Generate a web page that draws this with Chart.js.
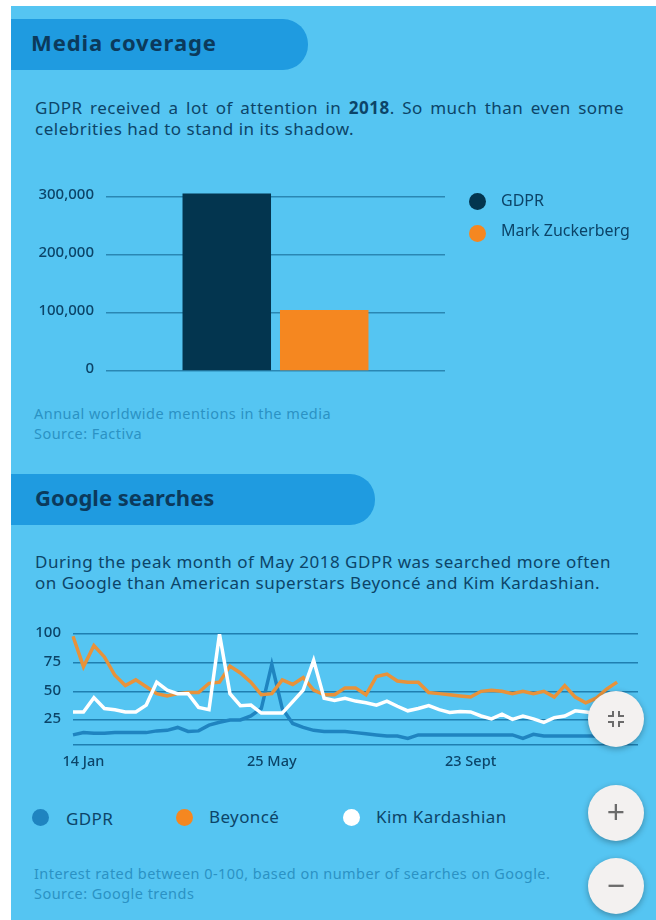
<!DOCTYPE html>
<html>
<head>
<meta charset="utf-8">
<title>Media coverage</title>
<script src="https://cdn.jsdelivr.net/npm/chart.js@4/dist/chart.umd.min.js"></script>
<style>
  html, body { margin: 0; padding: 0; background: #fff; }
  body { width: 656px; height: 920px; overflow: hidden; position: relative; font-family: "Noto Sans", sans-serif; color: #0c4468; }
  #panel { position: absolute; left: 11px; top: 6px; right: 0; bottom: 0; background: #55c5f2; }
  canvas { position: absolute; left: 0; }
  .pill { position: absolute; left: 11px; height: 51px; background: #1f9be0; border-radius: 0 25px 25px 0; }
  .pill span { position: absolute; top: 8px; font-size: 22px; line-height: 30px; font-weight: 700; color: #0b3a5c; white-space: nowrap; }
  .txt { position: absolute; left: 35px; font-size: 17px; line-height: 21px; letter-spacing: 0.5px; white-space: nowrap; }
  .note { position: absolute; left: 34px; font-size: 14.5px; line-height: 20px; letter-spacing: 0.45px; color: #2b92c4; white-space: nowrap; }
  .key { position: absolute; font-size: 16px; line-height: 20px; white-space: nowrap; }
  #searchKeys .key { font-size: 17px; letter-spacing: 0.4px; }
  .dot { position: absolute; width: 17px; height: 17px; border-radius: 50%; }
  .btn { position: absolute; left: 588px; width: 56px; height: 56px; border-radius: 50%; background: #f3f1f0; box-shadow: 0 2px 6px rgba(0,0,0,.3); color: #6b6b6b; font-size: 32px; line-height: 54px; text-align: center; }
  .btn svg { position: absolute; left: 18px; top: 18px; }
</style>
</head>
<body>
<div id="panel"></div>

<div class="pill" style="top:19px;width:297px"><span style="left:20px;letter-spacing:0.9px">Media coverage</span></div>
<div class="txt" style="top:97px"><span style="word-spacing:2.5px">GDPR received a lot of attention in <b>2018</b>. So much than even some</span><br>celebrities had to stand in its shadow.</div>
<canvas id="mediaChart" width="656" height="200" style="top:180px"></canvas>
<div id="mediaKeys"></div>
<div class="note" style="top:403px">Annual worldwide mentions in the media<br>Source: Factiva</div>

<div class="pill" style="top:474px;width:364px"><span style="left:24px">Google searches</span></div>
<div class="txt" style="top:551px">During the peak month of May 2018 GDPR was searched more often<br>on Google than American superstars Beyoncé and Kim Kardashian.</div>
<canvas id="searchChart" width="656" height="150" style="top:625px"></canvas>
<div id="searchKeys"></div>
<div class="note" style="top:863px">Interest rated between 0-100, based on number of searches on Google.<br>Source: Google trends</div>

<div class="btn" style="top:691px">
  <svg width="20" height="20" viewBox="0 0 20 20" fill="none" stroke="#6b6b6b" stroke-width="2">
    <path d="M7 2V7H2M13 2V7H18M7 18V13H2M13 18V13H18"/>
  </svg>
</div>
<div class="btn" style="top:785px">+</div>
<div class="btn" style="top:858px">−</div>

<script>
// media mentions
const mediaNames = ['GDPR', 'Mark Zuckerberg'];
const mediaValues = [306000, 105000];
const mediaColors = ['#03354f', '#f58720'];
const mediaTicks = [0, 100000, 200000, 300000];

// google trends, one value per week
const searchNames = ['GDPR', 'Beyoncé', 'Kim Kardashian'];
const searchColors = ['#1f84c0', '#e8923a', '#ffffff'];
const keyColors = ['#1f84c0', '#f58720', '#ffffff'];
const searchTicks = [25, 50, 75, 100];
const weekLabels = ['', '14 Jan', '', '', '', '', '', '', '', '', '', '', '', '', '', '', '', '', '', '25 May',
  '', '', '', '', '', '', '', '', '', '', '', '', '', '', '', '', '', '', '23 Sept', '',
  '', '', '', '', '', '', '', '', '', '', '', '', '', '', ''];
const gdpr = [12, 14, 13.5, 13.5, 14, 14, 14, 14, 15.5, 16, 18.5, 15, 15.5, 20.5, 23, 25, 25, 28.5, 35, 73.5,
  35, 22, 18.5, 16, 15, 15, 15, 14, 13, 12, 11, 11, 9, 12, 12, 12, 12, 12, 12, 12,
  12, 12, 12, 9, 12.5, 11, 11, 11, 11, 11, 11, 11, 11];
const beyonce = [98, 71.5, 90, 80, 64, 55, 60, 54, 48, 46, 48, 49, 49, 57, 58, 72, 66, 58, 47, 48,
  60, 56, 62, 51, 47, 47, 53, 53, 47, 63, 65, 59, 58, 58, 49, 48, 47, 46, 45, 50,
  51, 50, 48, 50, 48, 50, 45, 55, 45, 40, 44, 52, 58];
const kim = [32, 32, 44.5, 35, 34, 32, 32, 38, 58, 51, 48, 48, 36, 34, 100, 48, 37.5, 38, 31, 31,
  31, 41, 51, 77, 44, 42, 44, 41.5, 40, 38, 41.5, 37, 33, 35, 37.5, 34, 31.5, 32.5, 32, 28.5,
  26, 30, 25.5, 28.5, 26, 23, 27, 28.5, 33, 32, 31, 33, 33];
const searchSeries = [gdpr, beyonce, kim];
const searchFloor = 3.2;

const gridColor = '#2a87b3';
const tickColor = '#0c4468';

// html legends
function addKey(holder, name, color, dotX, dotY, textX, textY) {
  const dot = document.createElement('div');
  dot.className = 'dot';
  dot.style.cssText = 'left:' + (dotX - 8) + 'px;top:' + (dotY - 8) + 'px;background:' + color;
  holder.appendChild(dot);
  const label = document.createElement('div');
  label.className = 'key';
  label.textContent = name;
  label.style.cssText = 'left:' + textX + 'px;top:' + (textY - 10) + 'px';
  holder.appendChild(label);
}
const mediaKeys = document.getElementById('mediaKeys');
mediaNames.forEach((name, i) => addKey(mediaKeys, name, mediaColors[i], 477, 201 + i * 32, 501, 200 + i * 30));
const searchKeys = document.getElementById('searchKeys');
const keyDots = [40, 184, 351];
const keyTexts = [66, 209, 376];
searchNames.forEach((name, i) => addKey(searchKeys, name, keyColors[i], keyDots[i], 817, keyTexts[i], i === 0 ? 819 : 817));

// fixed left gutter, no extra room for half tick labels above and below the plot
function fitValueAxis(width) {
  return scale => {
    scale.width = width;
    scale.paddingTop = 0;
    scale.paddingBottom = 0;
  };
}

new Chart(document.getElementById('mediaChart'), {
  type: 'bar',
  data: {
    labels: ['Mentions'],
    datasets: mediaNames.map((name, i) => ({
      label: name,
      data: [mediaValues[i]],
      backgroundColor: mediaColors[i],
      categoryPercentage: 0.575,
      barPercentage: 0.908
    }))
  },
  options: {
    responsive: false,
    animation: false,
    layout: { padding: { top: 11.2, right: 211, bottom: 9, left: 0 } },
    plugins: { legend: { display: false }, tooltip: { enabled: false } },
    scales: {
      x: { display: false },
      y: {
        min: 0,
        max: 310000,
        afterFit: fitValueAxis(106),
        afterBuildTicks: scale => { scale.ticks = mediaTicks.map(v => ({ value: v })); },
        border: { display: false },
        grid: { color: gridColor, lineWidth: 1.5, drawTicks: false },
        ticks: {
          color: tickColor,
          padding: 12,
          labelOffset: -2,
          font: { family: 'Noto Sans', size: 15, weight: '500' },
          callback: v => v.toLocaleString('en-US')
        }
      }
    }
  }
});

new Chart(document.getElementById('searchChart'), {
  type: 'line',
  data: {
    labels: weekLabels,
    datasets: searchNames.map((name, i) => ({
      label: name,
      data: searchSeries[i],
      borderColor: searchColors[i],
      borderWidth: 3.5,
      pointRadius: 0,
      tension: 0,
      order: searchNames.length - i
    }))
  },
  options: {
    responsive: false,
    animation: false,
    layout: { padding: { top: 9, right: 18, bottom: 0, left: 0 } },
    plugins: { legend: { display: false }, tooltip: { enabled: false } },
    scales: {
      x: {
        afterFit: scale => { scale.height = 30; },
        border: { display: false },
        grid: { display: false, drawTicks: false },
        ticks: {
          color: tickColor,
          padding: 8,
          autoSkip: false,
          maxRotation: 0,
          font: { family: 'Noto Sans', size: 14.5, weight: '500' }
        }
      },
      y: {
        min: searchFloor,
        max: 100,
        afterFit: fitValueAxis(73),
        afterBuildTicks: scale => { scale.ticks = [searchFloor].concat(searchTicks).map(v => ({ value: v })); },
        border: { display: false },
        grid: { color: '#1f7fb0', lineWidth: 1.5, drawTicks: false },
        ticks: {
          color: tickColor,
          padding: 12,
          labelOffset: -1,
          font: { family: 'Noto Sans', size: 15, weight: '500' },
          callback: v => v === searchFloor ? '' : v
        }
      }
    }
  }
});
</script>
</body>
</html>
